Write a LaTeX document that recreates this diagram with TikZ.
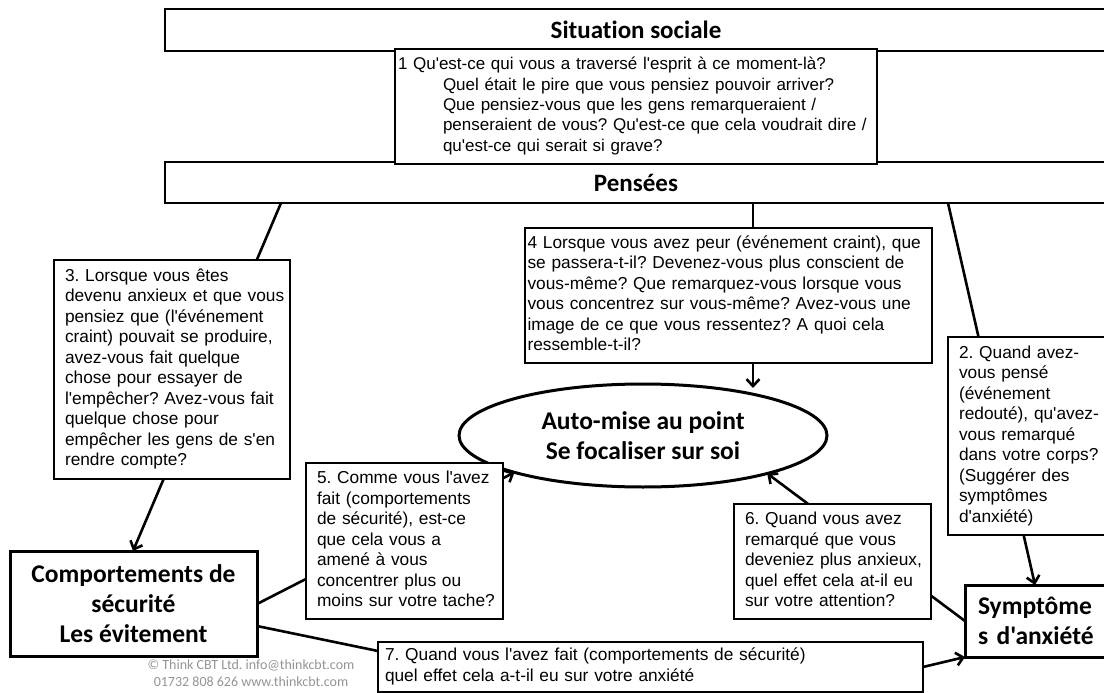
\documentclass[tikz,border=0pt]{standalone}
\usepackage{fontspec}
\setmainfont{Liberation Sans}[Ligatures=TeXOff]
\newfontfamily\calfont{Carlito}[Ligatures={TeXOff,NoCommon}]
\usetikzlibrary{arrows.meta,shapes.geometric}
\pgfdeclarelayer{bg}
\pgfsetlayers{bg,main}
\frenchspacing
\newcommand\qlines[1]{\begin{tabular}{@{}l@{}}#1\end{tabular}}
\tikzset{
  qbox/.style={draw, line width=2.8pt, fill=white, inner ysep=0pt, outer sep=0pt, align=left,
    font=\frenchspacing\fontsize{17.3}{20.5}\selectfont},
  titlebox/.style={draw, line width=2.8pt, fill=white, inner sep=0pt, outer sep=0pt,
    font=\calfont\bfseries\fontsize{25}{29}\selectfont},
  bigbox/.style={draw, line width=3pt, fill=white, inner ysep=0pt, outer sep=0pt,
    font=\calfont\bfseries\fontsize{25.5}{30}\selectfont},
  conn/.style={line width=2.6pt},
  arr/.style={conn, -{Straight Barb[length=7pt,width=13pt]}},
}
\begin{document}
\begin{tikzpicture}[x=1pt,y=-1pt]
\useasboundingbox (0,0) rectangle (1104,693);
\clip (0,0) rectangle (1104,693);
% title bars
\node[titlebox, minimum width=942pt, minimum height=42pt] (sit) at (636,30) {Situation sociale};
\node[titlebox, minimum width=942pt, minimum height=41pt] (pens) at (636,182.5) {Pensées};
% question 1
\node[qbox, minimum width=482pt, minimum height=115pt, inner xsep=3pt, text width=476pt,
  font=\frenchspacing\fontsize{17}{20.3}\selectfont] (q1) at (636,106.5)
  {\qlines{1 Qu'est-ce qui vous a traversé l'esprit à ce moment-là?\\
  \hspace*{45pt}Quel était le pire que vous pensiez pouvoir arriver?\\
  \hspace*{45pt}Que pensiez-vous que les gens remarqueraient /\\
  \hspace*{45pt}penseraient de vous? Qu'est-ce que cela voudrait dire /\\
  \hspace*{45pt}qu'est-ce qui serait si grave?}};
% question 3
\node[qbox, minimum width=236pt, minimum height=219pt, inner xsep=11pt, text width=214pt] (q3) at (172,369.5)
  {\qlines{3. Lorsque vous êtes\\
  devenu anxieux et que vous\\
  pensiez que (l'événement\\
  craint) pouvait se produire,\\
  avez-vous fait quelque\\
  chose pour essayer de\\
  l'empêcher? Avez-vous fait\\
  quelque chose pour\\
  empêcher les gens de s'en\\
  rendre compte?}};
% question 4
\node[qbox, minimum width=407pt, minimum height=135pt, inner xsep=2.5pt, text width=402pt] (q4) at (728.5,295.5)
  {\qlines{4 Lorsque vous avez peur (événement craint), que\\
  se passera-t-il? Devenez-vous plus conscient de\\
  vous-même? Que remarquez-vous lorsque vous\\
  vous concentrez sur vous-même? Avez-vous une\\
  image de ce que vous ressentez? A quoi cela\\
  ressemble-t-il?}};
% question 2
\node[qbox, minimum width=177pt, minimum height=198pt, inner xsep=11pt, text width=155pt] (q2) at (1036.5,436)
  {\qlines{2. Quand avez-\\
  vous pensé\\
  (événement\\
  redouté), qu'avez-\\
  vous remarqué\\
  dans votre corps?\\
  (Suggérer des\\
  symptômes\\
  d'anxiété)}};
% ellipse
\node[draw, ellipse, line width=3pt, fill=white, inner sep=0pt, outer sep=0pt,
  minimum width=368pt, minimum height=103pt, align=center,
  font=\calfont\bfseries\fontsize{25.5}{30}\selectfont] (ell) at (643,435.5)
  {Auto-mise au point\\Se focaliser sur soi};
% question 5
\node[qbox, minimum width=197pt, minimum height=156pt, inner xsep=11pt, text width=175pt] (q5) at (404.5,541)
  {\qlines{5. Comme vous l'avez\\
  fait (comportements\\
  de sécurité), est-ce\\
  que cela vous a\\
  amené à vous\\
  concentrer plus ou\\
  moins sur votre tache?}};
% question 6
\node[qbox, minimum width=197pt, minimum height=115pt, inner xsep=11pt, text width=175pt] (q6) at (832.5,561.5)
  {\qlines{6. Quand vous avez\\
  remarqué que vous\\
  deveniez plus anxieux,\\
  quel effet cela at-il eu\\
  sur votre attention?}};
% question 7
\node[qbox, line width=2.3pt, minimum width=545pt, minimum height=50pt, inner xsep=7pt, text width=531pt] (q7) at (650.5,667)
  {\qlines{7. Quand vous l'avez fait (comportements de sécurité)\\
  quel effet cela a-t-il eu sur votre anxiété}};
% safety behaviours
\node[bigbox, minimum width=247pt, minimum height=105pt, inner xsep=0pt, align=center] (comp) at (133.5,603.5)
  {Comportements de\\sécurité\\Les évitement};
% symptoms
\node[bigbox, minimum width=160pt, minimum height=72pt, inner xsep=13pt, text width=134pt, align=left] (sym) at (1045,621)
  {Symptôme\\s d'anxiété};
% copyright
\node[text=black!42, font=\calfont\fontsize{14}{17}\selectfont, align=center, inner sep=0pt] (copy) at (251,673.5)
  {© Think CBT Ltd. info@thinkcbt.com\\01732 808 626 www.thinkcbt.com};
% connectors
\begin{pgfonlayer}{bg}
\draw[arr] ([xshift=-355pt]pens.south) -- ([xshift=-0.5pt]comp.north);
\draw[arr] ([xshift=117pt]pens.south) -- ([xshift=110pt,yshift=-4pt]ell.north);
\draw[arr] ([xshift=312pt]pens.south) -- ([xshift=-10pt]sym.north);
\draw[arr] ([yshift=-0.5pt]comp.east) -- (ell.196);
\draw[arr] (sym.west) -- (ell.343);
\draw[conn] ([yshift=-22.5pt]comp.east) -- ([yshift=16pt]q7.west);
\draw[arr] (q7.east) -- (sym.south west);
\end{pgfonlayer}
\end{tikzpicture}
\end{document}
